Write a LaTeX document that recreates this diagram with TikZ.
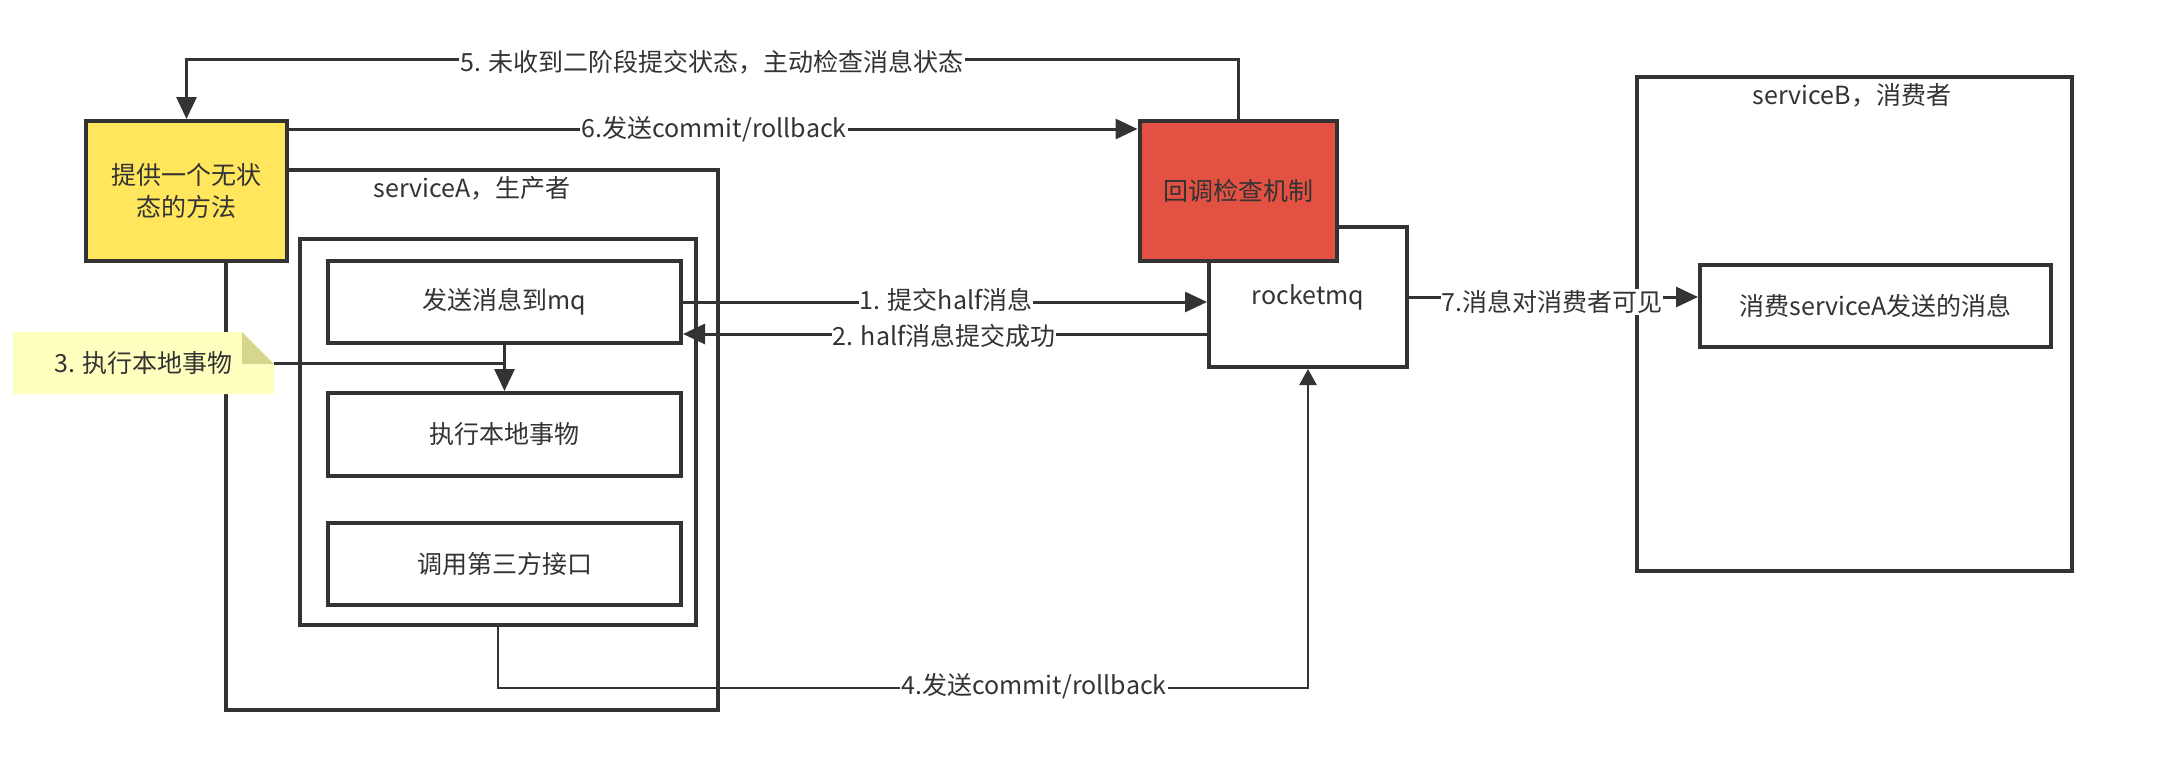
\documentclass[tikz,border=0pt]{standalone}
\usepackage{fontspec}
\setmainfont{Noto Sans CJK SC}
\usetikzlibrary{arrows.meta}

\definecolor{ink}{HTML}{333333}
\definecolor{methodfill}{HTML}{FFE65C}
\definecolor{checkfill}{HTML}{E25141}
\definecolor{notefill}{HTML}{FFFFC0}
\definecolor{notefold}{HTML}{D6D68C}
\newcommand\dgfont{\fontsize{25}{32}\selectfont}

\tikzset{
    box/.style = {draw = ink, line width = 4pt, fill = white, text = ink, font = \dgfont, align = center},
    conn/.style = {draw = ink, line width = 3pt, -{Triangle[length = 22pt, width = 20pt]}},
    thinconn/.style = {draw = ink, line width = 2.5pt, -{Triangle[length = 16pt, width = 17pt]}},
    plain/.style = {draw = ink, line width = 3pt},
    lbl/.style = {fill = white, inner sep = 1pt, text = ink, font = \dgfont}
}

\begin{document}
\begin{tikzpicture}[x = 1pt, y = -1pt]
    \useasboundingbox (0, 0) rectangle (2166, 760);

    % producer side
    \node[box, minimum width = 492pt, minimum height = 540pt] (svcA) at (472, 440) {};
    \node[text = ink, font = \dgfont] (svcAlbl) at (472, 188) {serviceA，生产者};
    \node[box, minimum width = 396pt, minimum height = 386pt] (inner) at (498, 432) {};
    \node[box, minimum width = 353pt, minimum height = 82pt] (send) at (504.5, 302) {发送消息到mq};
    \node[box, minimum width = 353pt, minimum height = 83pt] (exec) at (504.5, 434.5) {执行本地事物};
    \node[box, minimum width = 353pt, minimum height = 82pt] (call) at (504.5, 564) {调用第三方接口};
    \node[box, fill = methodfill, minimum width = 201pt, minimum height = 140pt] (method) at (186.5, 191) {提供一个无状\\态的方法};

    % note
    \fill[notefill] (13, 332) -- (242, 332) -- (274, 364) -- (274, 394) -- (13, 394) -- cycle;
    \fill[notefold] (242, 332) -- (242, 364) -- (274, 364) -- cycle;
    \node[text = ink, font = \dgfont, minimum width = 261pt, minimum height = 62pt] (note) at (143.5, 363) {3. 执行本地事物};

    % broker
    \node[box, minimum width = 198pt, minimum height = 140pt] (mq) at (1308, 297) {rocketmq};
    \node[box, fill = checkfill, minimum width = 197pt, minimum height = 140pt] (check) at (1238, 191) {回调检查机制};

    % consumer side
    \node[box, minimum width = 435pt, minimum height = 494pt] (svcB) at (1854.5, 324) {};
    \node[text = ink, font = \dgfont] (svcBlbl) at (1852, 95) {serviceB，消费者};
    \node[box, minimum width = 351pt, minimum height = 82pt] (consume) at (1875.5, 306) {消费serviceA发送的消息};

    % connectors
    \draw[conn] (check.north) -- ++(0, -59) -| (method.north);
    \draw[conn] ([yshift = 62pt]method.east) -- ([yshift = 62pt]method.east -| check.west);
    \draw[conn] (send.east) -- (send.east -| mq.west);
    \draw[conn] ([yshift = -37pt]mq.west) -- ([yshift = -37pt]mq.west -| send.east);
    \draw[conn] (send.south) -- (exec.north);
    \draw[plain] (note.east) -- (note.east -| send.south);
    \draw[thinconn] (inner.south) -- ++(0, 61) -| (mq.south);
    \draw[conn] (mq.east) -- (mq.east -| consume.west);

    % connector labels
    \node[lbl] (l5) at (712, 62) {5. 未收到二阶段提交状态，主动检查消息状态};
    \node[lbl] (l6) at (714, 129) {6.发送commit/rollback};
    \node[lbl] (l1) at (946, 300) {1. 提交half消息};
    \node[lbl] (l2) at (944, 336) {2. half消息提交成功};
    \node[lbl] (l4) at (1034, 686) {4.发送commit/rollback};
    \node[lbl] (l7) at (1552, 302) {7.消息对消费者可见};
\end{tikzpicture}
\end{document}
